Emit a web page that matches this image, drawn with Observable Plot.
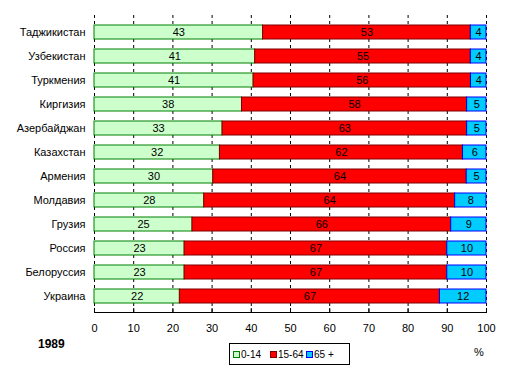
<!DOCTYPE html>
<html><head><meta charset="utf-8">
<script src="https://cdn.jsdelivr.net/npm/d3@7"></script>
<script src="https://cdn.jsdelivr.net/npm/@observablehq/plot@0.6"></script>
<style>
body{margin:0;background:#fff;font-family:"Liberation Sans",Arial,sans-serif;}
#wrap{position:relative;width:512px;height:373px;overflow:hidden;}
.abs{position:absolute;font-size:11px;line-height:11px;color:#000;white-space:nowrap;}
.sq{position:absolute;width:7px;height:7px;box-sizing:border-box;border:1px solid;}
</style></head><body><div id="wrap"></div>
<script>
const countries = ["Таджикистан","Узбекистан","Туркмения","Киргизия","Азербайджан","Казахстан","Армения","Молдавия","Грузия","Россия","Белоруссия","Украина"];
const young   = [43,41,41,38,33,32,30,28,25,23,23,22];
const working = [53,55,56,58,63,62,64,64,66,67,67,67];
const old     = [4,4,4,5,5,6,5,8,9,10,10,12];
const groups  = ["0-14","15-64","65 +"];
const fills   = ["#ccffcc","#ff0000","#00ccff"];
const strokes = ["#008000","#800000","#0000ff"];
const xTicks  = [0,10,20,30,40,50,60,70,80,90,100];
const yearLabel = "1989";
const unitLabel = "%";

const series = [young, working, old];
const table = [];
countries.forEach((c, i) => {
  const total = young[i] + working[i] + old[i];
  let acc = 0;
  series.forEach((s, g) => {
    const share = s[i] / total * 100;
    table.push({country: c, group: groups[g], g, value: s[i], x1: acc, x2: acc + share});
    acc += share;
  });
});

const chart = Plot.plot({
  width: 512,
  height: 373,
  marginLeft: 94,
  marginRight: 26,
  marginTop: 15,
  marginBottom: 61,
  style: {fontFamily: '"Liberation Sans", Arial, sans-serif', fontSize: "11px", color: "#000", background: "#fff"},
  x: {domain: [0, 100], ticks: xTicks, tickSize: 0, tickPadding: 12, label: null},
  y: {domain: countries, paddingInner: 0.43, paddingOuter: 0.2, tickSize: 0, tickPadding: 9, label: null},
  marks: [
    Plot.ruleX(xTicks, {stroke: "#000", strokeDasharray: "3,3"}),
    ...groups.map((gname, g) => Plot.barX(table.filter(d => d.g === g), {
      x1: "x1", x2: "x2", y: "country", fill: fills[g], stroke: strokes[g], strokeWidth: 1
    })),
    Plot.text(table, {x: d => (d.x1 + d.x2) / 2, y: "country", text: d => String(d.value), fill: "#000"}),
    Plot.ruleX(xTicks, {stroke: "#000", insetTop: 293}),
    Plot.frame({anchor: "bottom", stroke: "#000"})
  ]
});

const wrap = document.getElementById("wrap");
wrap.appendChild(chart);

function add(html, style, cls) {
  const el = document.createElement("div");
  el.className = cls || "abs";
  if (html !== null) el.textContent = html;
  Object.assign(el.style, style);
  wrap.appendChild(el);
  return el;
}
add(yearLabel, {left: "38px", top: "338px", fontWeight: "bold", fontSize: "12px", lineHeight: "12px"});
add(unitLabel, {left: "474px", top: "347px"});
add(null, {left: "229px", top: "343px", width: "121px", height: "22px", border: "1px solid #000", boxSizing: "border-box", background: "#fff"}, "abs");
const sqX = [233, 270, 306];
const txX = [241, 278, 314];
groups.forEach((gname, g) => {
  add(null, {left: sqX[g] + "px", top: "351px", background: fills[g], borderColor: strokes[g]}, "sq");
  add(gname, {left: txX[g] + "px", top: "349px", fontSize: "10px", lineHeight: "11px"});
});
</script>
</body></html>
